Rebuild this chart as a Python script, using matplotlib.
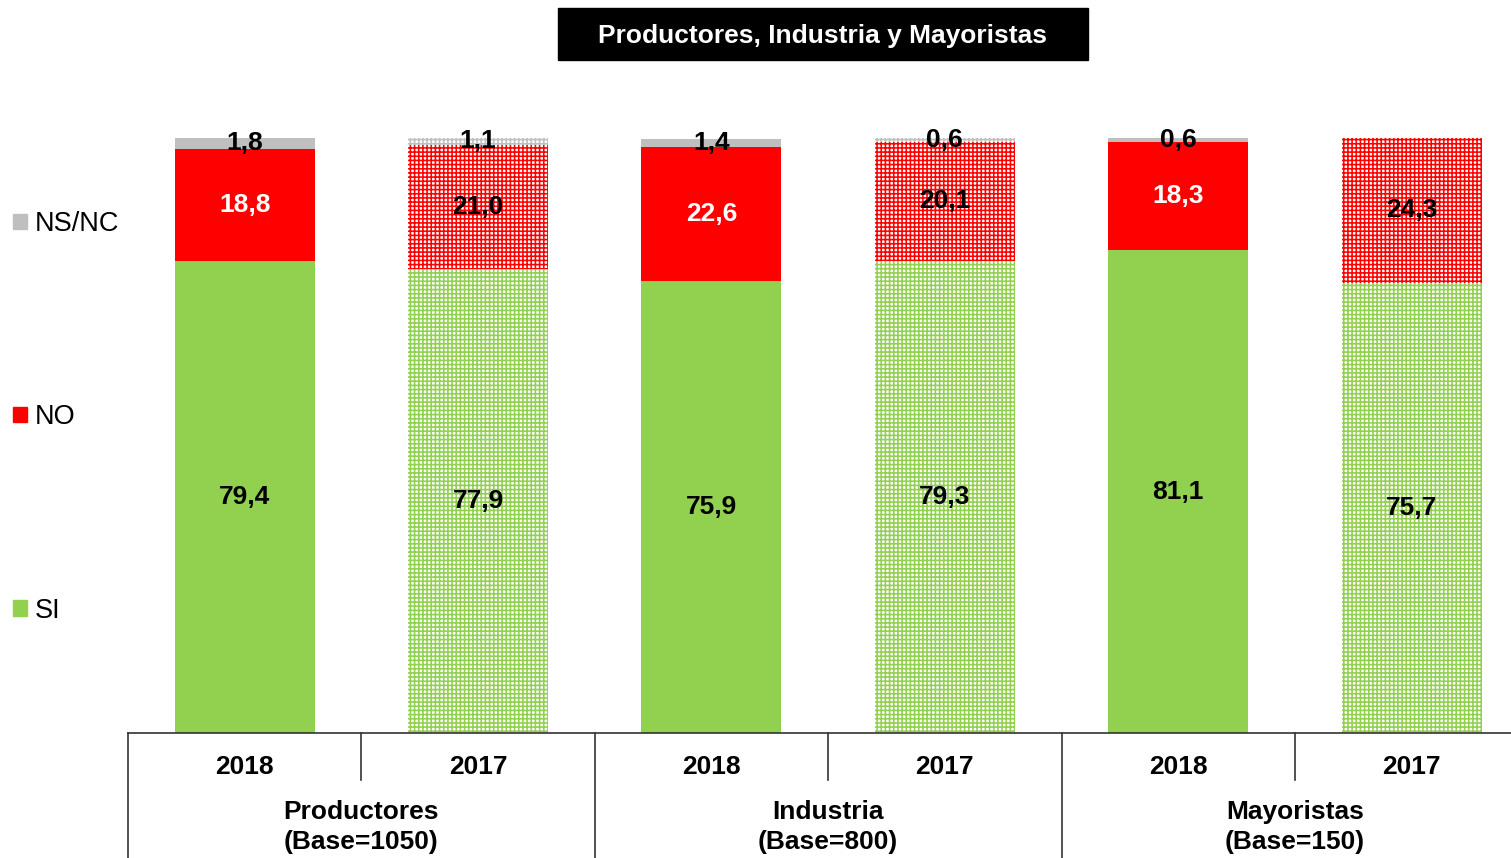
import numpy as np
import matplotlib.pyplot as plt
from matplotlib.patches import Patch, Rectangle
from matplotlib.transforms import blended_transform_factory

plt.rcParams['font.family'] = ['Liberation Sans', 'DejaVu Sans']
plt.rcParams['hatch.linewidth'] = 1.15

# data
years = ['2018', '2017', '2018', '2017', '2018', '2017']
groups = ['Productores\n(Base=1050)', 'Industria\n(Base=800)', 'Mayoristas\n(Base=150)']
si = [79.4, 77.9, 75.9, 79.3, 81.1, 75.7]
no = [18.8, 21.0, 22.6, 20.1, 18.3, 24.3]
nsnc = [1.8, 1.1, 1.4, 0.6, 0.6, 0.0]

green, red, grey = '#92D050', '#FF0000', '#BFBFBF'
series = [('SI', si, green), ('NO', no, red), ('NS/NC', nsnc, grey)]

fig = plt.figure(figsize=(15.11, 8.58), dpi=100)
ax = fig.add_axes([128 / 1511, 125 / 858, 1383 / 1511, 595 / 858])

x = np.arange(len(years))
bottom = np.zeros(len(years))
for name, vals, col in series:
    vals = np.array(vals)
    for i in x:
        if vals[i] == 0:
            continue
        if i % 2 == 0:
            ax.bar(i, vals[i], 0.6, bottom=bottom[i], color=col, linewidth=0)
        else:
            # 2017 bars use the dotted pattern
            ax.bar(i, vals[i], 0.6, bottom=bottom[i], facecolor='white',
                   edgecolor=col, hatch='++++', linewidth=0)
        txt_col = 'white' if (name == 'NO' and i % 2 == 0) else 'black'
        ax.text(i, bottom[i] + vals[i] / 2, f'{vals[i]:.1f}'.replace('.', ','),
                ha='center', va='center', fontsize=19, fontweight='bold', color=txt_col)
    bottom += vals

ax.set_xlim(-0.5, 5.426)
ax.set_ylim(0, 100)
for s in ['top', 'left', 'right']:
    ax.spines[s].set_visible(False)
ax.spines['bottom'].set_color('#333333')
ax.spines['bottom'].set_linewidth(1.2)
ax.set_yticks([])
ax.set_xticks(x, years, fontsize=19, fontweight='bold')
ax.tick_params(axis='x', length=0, pad=15.5)

trans = blended_transform_factory(ax.transData, ax.transAxes)
for k, g in enumerate(groups):
    ax.text(2 * k + 0.5, -0.158, g, transform=trans, ha='center', va='center',
            fontsize=19, fontweight='bold', linespacing=1.3)
for xs in [-0.5, 1.5, 3.5]:
    ax.plot([xs, xs], [0, -0.22], transform=trans, clip_on=False, color='#333333', lw=1.2)
for xs in [0.5, 2.5, 4.5]:
    ax.plot([xs, xs], [0, -0.079], transform=trans, clip_on=False, color='#333333', lw=1.2)

handles = [Patch(color=c) for _, _, c in series][::-1]
labels = [n for n, _, _ in series][::-1]
fig.legend(handles, labels, loc='upper left', bbox_to_anchor=(13 / 1511, (858 - 211) / 858),
           frameon=False, fontsize=19.5, handlelength=0.5, handleheight=0.5,
           handletextpad=0.3, labelspacing=6.18, borderpad=0, borderaxespad=0)

# title box
fig.patches.append(Rectangle((558 / 1511, (858 - 60) / 858), 530 / 1511, 52 / 858,
                             transform=fig.transFigure, color='black'))
fig.text(823 / 1511, (858 - 36) / 858, 'Productores, Industria y Mayoristas',
         ha='center', va='center', color='white', fontsize=19, fontweight='bold')

fig.savefig('out.png', dpi=100)
